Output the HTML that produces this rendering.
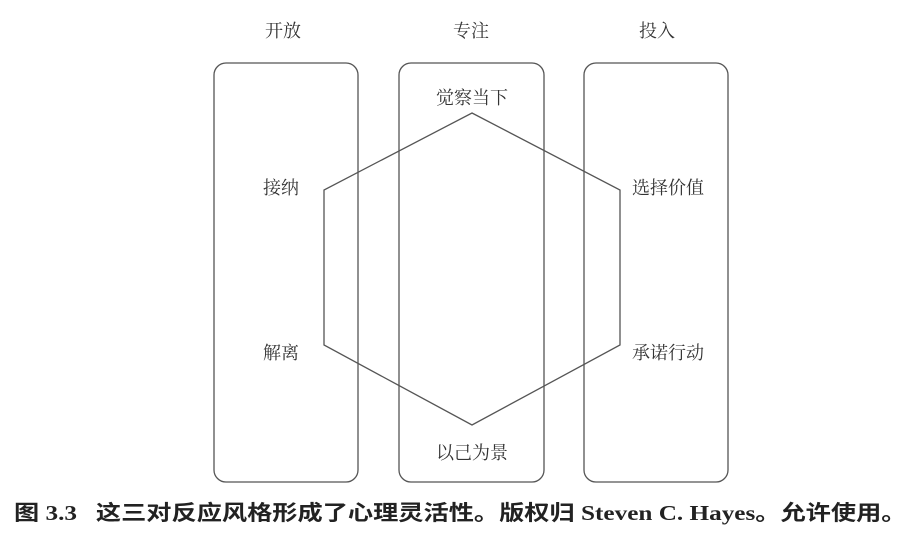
<!DOCTYPE html>
<html><head><meta charset="utf-8"><style>
body{margin:0;background:#fff;width:923px;height:560px;overflow:hidden}
svg text{font-family:"Liberation Serif","Noto Serif CJK SC",serif;fill:#333;font-size:18px}
.cap{position:absolute;left:14px;top:497px;font-family:"Liberation Serif","Noto Sans CJK SC",sans-serif;font-weight:bold;font-size:21px;color:#222;white-space:nowrap;transform:scaleX(1.2);transform-origin:0 0}
</style></head><body>
<svg width="923" height="560" style="position:absolute;left:0;top:0">
<g fill="none" stroke="#555" stroke-width="1.3">
<rect x="214" y="63" width="144" height="419" rx="12"/>
<rect x="399" y="63" width="145" height="419" rx="12"/>
<rect x="584" y="63" width="144" height="419" rx="12"/>
<polygon points="472,113 620,190 620,345 472,425 324,345 324,190"/>
</g>
<g text-anchor="middle">
<text x="283" y="37">开放</text>
<text x="471" y="37">专注</text>
<text x="657" y="37">投入</text>
<text x="472" y="104">觉察当下</text>
<text x="281" y="194">接纳</text>
<text x="281" y="359">解离</text>
<text x="668" y="194">选择价值</text>
<text x="668" y="359">承诺行动</text>
<text x="472" y="459">以己为景</text>
</g>
</svg>
<div class="cap">图 3.3&nbsp;&nbsp;&nbsp;这三对反应风格形成了心理灵活性。版权归 Steven C. Hayes。允许使用。</div>
</body></html>
